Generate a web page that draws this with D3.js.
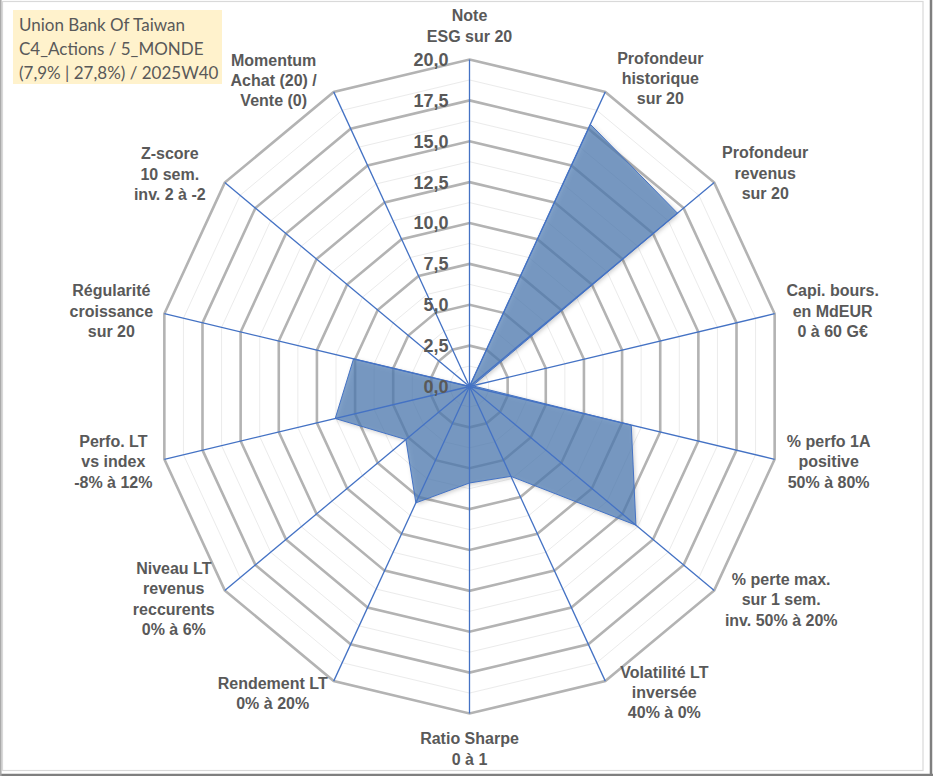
<!DOCTYPE html>
<html>
<head>
<meta charset="utf-8">
<script src="https://cdn.jsdelivr.net/npm/d3@7"></script>
<style>
  body { margin: 0; background: #fff; }
  svg text.lbl { font-family: "Liberation Sans", Arial, sans-serif; }
  svg text.ttl { font-family: Lato, "Open Sans", sans-serif; }
</style>
</head>
<body>
<div class="vis-holder"></div>
<script>
const width = 933;
const height = 776;

// axes, clockwise from the top
const axes = [
    "Note|ESG sur 20",
    "Profondeur|historique|sur 20",
    "Profondeur|revenus|sur 20",
    "Capi. bours.|en MdEUR|0 à 60 G€",
    "% perfo 1A|positive|50% à 80%",
    "% perte max.|sur 1 sem.|inv. 50% à 20%",
    "Volatilité LT|inversée|40% à 0%",
    "Ratio Sharpe|0 à 1",
    "Rendement LT|0% à 20%",
    "Niveau LT|revenus|reccurents|0% à 6%",
    "Perfo. LT|vs index|-8% à 12%",
    "Régularité|croissance|sur 20",
    "Z-score|10 sem.|inv. 2 à -2",
    "Momentum|Achat (20) /|Vente (0)"
];

const values = [0, 17.8, 17.0, 0.2, 10.6, 13.6, 6.1, 5.9, 7.9, 5.2, 8.8, 7.6, 0, 0];

const majorTicks = [0, 2.5, 5, 7.5, 10, 12.5, 15, 17.5, 20];
const minorTicks = [1.25, 3.75, 6.25, 8.75, 11.25, 13.75, 16.25, 18.75];

const titleLines = ["Union Bank Of Taiwan", "C4_Actions / 5_MONDE", "(7,9% | 27,8%) / 2025W40"];

// label block centre, relative to the end of its axis
const labelShift = [
    [0, -34], [55, -14], [51, -10], [58, -3], [54, 2], [67, 9], [59, 11],
    [0, 35], [-61, 12], [-51, 8], [-51, 2], [-53, -3], [-55, -9], [-60, -12]
];

const cx = 469.5, cy = 386.5;
const rx = d3.scaleLinear().domain([0, 20]).range([0, 313]);
const ry = d3.scaleLinear().domain([0, 20]).range([0, 327]);
const angle = d3.scaleLinear().domain([0, axes.length]).range([0, 2 * Math.PI]);

const px = (i, v) => cx + rx(v) * Math.sin(angle(i));
const py = (i, v) => cy - ry(v) * Math.cos(angle(i));

const svg = d3.select(".vis-holder").append("svg")
    .attr("width", width)
    .attr("height", height);

const defs = svg.append("defs");
defs.append("filter").attr("id", "shadow")
    .attr("x", "-10%").attr("y", "-10%").attr("width", "120%").attr("height", "120%")
    .append("feDropShadow")
    .attr("dx", 1.5).attr("dy", 1.5).attr("stdDeviation", 2)
    .attr("flood-color", "#000").attr("flood-opacity", 0.3);

// frame
svg.append("rect").attr("x", 2.5).attr("y", 1.5).attr("width", 920.5).attr("height", 769)
    .attr("fill", "#fff").attr("stroke", "#d9d9d9").attr("stroke-width", 1.2);
svg.append("line").attr("x1", 931).attr("x2", 931).attr("y1", 0).attr("y2", 776)
    .attr("stroke", "#7f7f7f").attr("stroke-width", 2.5);
svg.append("line").attr("x1", 0).attr("x2", 933).attr("y1", 775).attr("y2", 775)
    .attr("stroke", "#7f7f7f").attr("stroke-width", 2.5);
svg.append("line").attr("x1", 0.8).attr("x2", 0.8).attr("y1", 0).attr("y2", 776)
    .attr("stroke", "#a6a6a6").attr("stroke-width", 1.5);

const ring = v => d3.line().curve(d3.curveLinearClosed)
    .x(i => px(i, v)).y(i => py(i, v))(d3.range(axes.length));

svg.append("g").selectAll("path")
    .data(minorTicks)
    .enter().append("path")
    .attr("d", ring)
    .attr("fill", "none")
    .attr("stroke", "#ebebeb")
    .attr("stroke-width", 1);

svg.append("g").selectAll("path")
    .data(majorTicks.filter(d => d > 0))
    .enter().append("path")
    .attr("d", ring)
    .attr("fill", "none")
    .attr("stroke", "#b3b3b3")
    .attr("stroke-width", 2.6);

// the series
const area = d3.line().curve(d3.curveLinearClosed)
    .x((d, i) => px(i, d)).y((d, i) => py(i, d));

svg.append("path")
    .attr("d", area(values))
    .attr("fill", "#4e7cb3")
    .attr("fill-opacity", 0.7)
    .attr("filter", "url(#shadow)");

// spokes
svg.append("g").selectAll("line")
    .data(axes)
    .enter().append("line")
    .attr("x1", cx).attr("y1", cy)
    .attr("x2", (d, i) => px(i, 20))
    .attr("y2", (d, i) => py(i, 20))
    .attr("stroke", "#4472c4")
    .attr("stroke-width", 1.3);

svg.append("path")
    .attr("d", area(values))
    .attr("fill", "none")
    .attr("stroke", "#4472c4")
    .attr("stroke-width", 1);

// value ticks on the top axis
svg.append("g").selectAll("text")
    .data(majorTicks)
    .enter().append("text")
    .attr("class", "lbl")
    .attr("x", cx - 21)
    .attr("y", d => cy - ry(d))
    .attr("dy", "0.36em")
    .attr("text-anchor", "end")
    .attr("font-size", 18)
    .attr("font-weight", "bold")
    .attr("fill", "#595959")
    .text(d => d3.format(".1f")(d).replace(".", ","));

// axis labels
const labels = svg.append("g").selectAll("text")
    .data(axes)
    .enter().append("text")
    .attr("class", "lbl")
    .attr("text-anchor", "middle")
    .attr("font-size", 16)
    .attr("font-weight", "bold")
    .attr("fill", "#595959");

labels.each(function(d, i) {
    const lines = d.split("|");
    const x = px(i, 20) + labelShift[i][0];
    const y0 = py(i, 20) + labelShift[i][1] - (lines.length - 1) * 10;
    d3.select(this).selectAll("tspan")
        .data(lines)
        .enter().append("tspan")
        .attr("x", x)
        .attr("y", (t, k) => y0 + k * 20.3)
        .attr("dy", "0.36em")
        .text(t => t);
});

// title box
svg.append("rect")
    .attr("x", 13).attr("y", 10).attr("width", 209).attr("height", 74)
    .attr("fill", "#fff2cc");
svg.append("g").selectAll("text")
    .data(titleLines)
    .enter().append("text")
    .attr("class", "ttl")
    .attr("x", 19)
    .attr("y", (d, i) => 31 + i * 24)
    .attr("font-size", 17)
    .attr("fill", "#595959")
    .text(d => d);
</script>
</body>
</html>
